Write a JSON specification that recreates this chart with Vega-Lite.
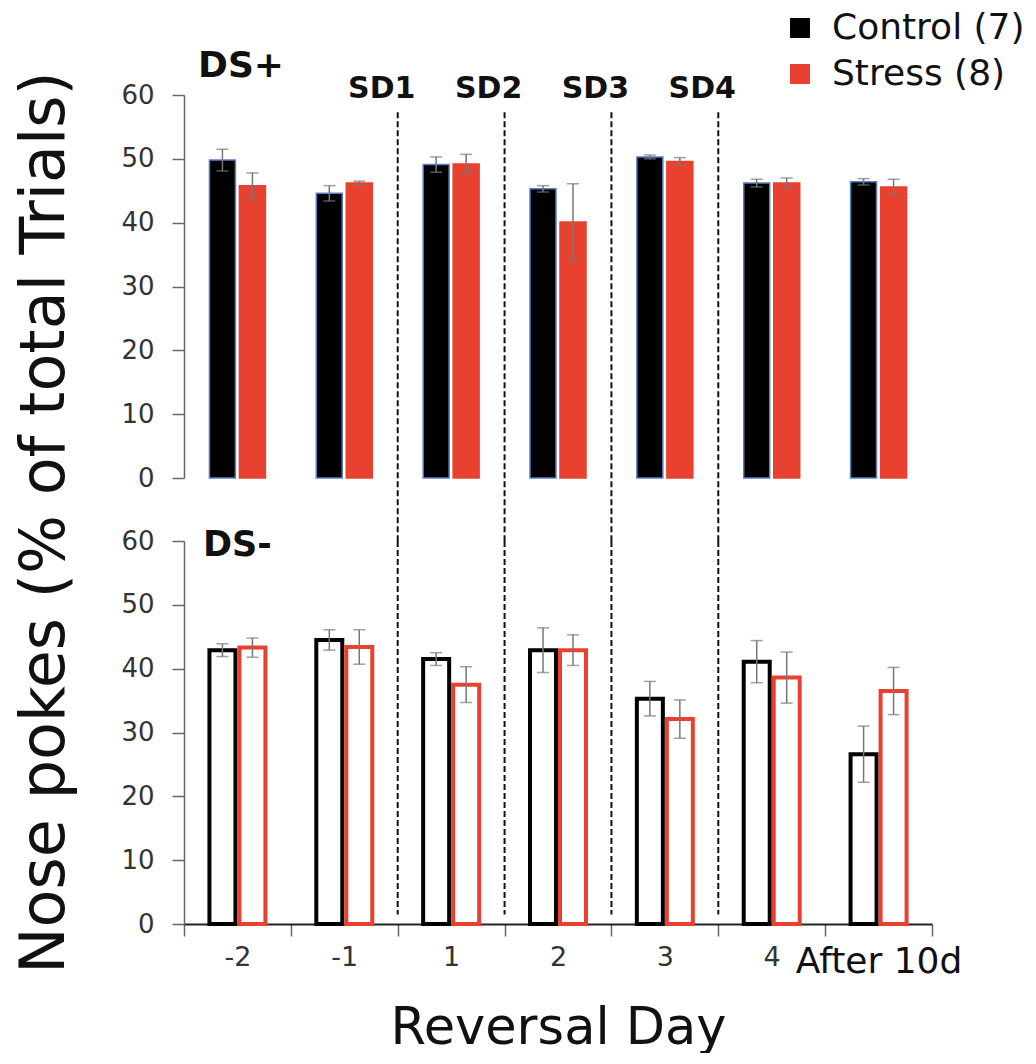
{
  "$schema": "https://vega.github.io/schema/vega-lite/v6.json",
  "padding": {"left": 12, "top": 10, "right": 0, "bottom": 0},
  "bounds": "flush",
  "spacing": 63,
  "config": {
    "font": "DejaVu Sans",
    "view": {"stroke": null},
    "axis": {"grid": false},
    "axisY": {
      "domainColor": "#666", "domainWidth": 1.5,
      "tickColor": "#666", "tickWidth": 1.5, "tickSize": 12,
      "labelFontSize": 26, "labelColor": "#333", "labelPadding": 18
    }
  },
  "datasets": {
    "bars": [
      {"day": "-2", "group": "Control (7)", "panel": "DS+", "value": 49.8, "lo": 48.1, "hi": 51.5},
      {"day": "-2", "group": "Stress (8)", "panel": "DS+", "value": 45.8, "lo": 43.8, "hi": 47.8},
      {"day": "-1", "group": "Control (7)", "panel": "DS+", "value": 44.6, "lo": 43.4, "hi": 45.8},
      {"day": "-1", "group": "Stress (8)", "panel": "DS+", "value": 46.2, "lo": 45.9, "hi": 46.5},
      {"day": "1", "group": "Control (7)", "panel": "DS+", "value": 49.1, "lo": 47.9, "hi": 50.3},
      {"day": "1", "group": "Stress (8)", "panel": "DS+", "value": 49.2, "lo": 47.7, "hi": 50.7},
      {"day": "2", "group": "Control (7)", "panel": "DS+", "value": 45.3, "lo": 44.8, "hi": 45.8},
      {"day": "2", "group": "Stress (8)", "panel": "DS+", "value": 40.1, "lo": 34.1, "hi": 46.1},
      {"day": "3", "group": "Control (7)", "panel": "DS+", "value": 50.3, "lo": 50.0, "hi": 50.6},
      {"day": "3", "group": "Stress (8)", "panel": "DS+", "value": 49.6, "lo": 49.0, "hi": 50.2},
      {"day": "4", "group": "Control (7)", "panel": "DS+", "value": 46.2, "lo": 45.6, "hi": 46.8},
      {"day": "4", "group": "Stress (8)", "panel": "DS+", "value": 46.2, "lo": 45.4, "hi": 47.0},
      {"day": "After 10d", "group": "Control (7)", "panel": "DS+", "value": 46.4, "lo": 45.9, "hi": 46.9},
      {"day": "After 10d", "group": "Stress (8)", "panel": "DS+", "value": 45.6, "lo": 44.4, "hi": 46.8},
      {"day": "-2", "group": "Control (7)", "panel": "DS-", "value": 42.9, "lo": 41.9, "hi": 43.9},
      {"day": "-2", "group": "Stress (8)", "panel": "DS-", "value": 43.3, "lo": 41.8, "hi": 44.8},
      {"day": "-1", "group": "Control (7)", "panel": "DS-", "value": 44.5, "lo": 42.9, "hi": 46.1},
      {"day": "-1", "group": "Stress (8)", "panel": "DS-", "value": 43.4, "lo": 40.7, "hi": 46.1},
      {"day": "1", "group": "Control (7)", "panel": "DS-", "value": 41.5, "lo": 40.5, "hi": 42.5},
      {"day": "1", "group": "Stress (8)", "panel": "DS-", "value": 37.5, "lo": 34.7, "hi": 40.3},
      {"day": "2", "group": "Control (7)", "panel": "DS-", "value": 42.9, "lo": 39.4, "hi": 46.4},
      {"day": "2", "group": "Stress (8)", "panel": "DS-", "value": 42.9, "lo": 40.5, "hi": 45.3},
      {"day": "3", "group": "Control (7)", "panel": "DS-", "value": 35.3, "lo": 32.6, "hi": 38.0},
      {"day": "3", "group": "Stress (8)", "panel": "DS-", "value": 32.1, "lo": 29.1, "hi": 35.1},
      {"day": "4", "group": "Control (7)", "panel": "DS-", "value": 41.1, "lo": 37.8, "hi": 44.4},
      {"day": "4", "group": "Stress (8)", "panel": "DS-", "value": 38.6, "lo": 34.6, "hi": 42.6},
      {"day": "After 10d", "group": "Control (7)", "panel": "DS-", "value": 26.6, "lo": 22.2, "hi": 31.0},
      {"day": "After 10d", "group": "Stress (8)", "panel": "DS-", "value": 36.5, "lo": 32.8, "hi": 40.2}
    ],
    "dividers": [
      {"day": "1", "label": "SD1"},
      {"day": "2", "label": "SD2"},
      {"day": "3", "label": "SD3"},
      {"day": "4", "label": "SD4"}
    ],
    "panels": [{"label": "DS+"}]
  },
  "vconcat": [
    {
      "width": 748,
      "height": 383,
      "encoding": {
        "x": {"field": "day", "type": "nominal", "scale": {"domain": ["-2", "-1", "1", "2", "3", "4", "After 10d"], "paddingInner": 0, "paddingOuter": 0}, "axis": null}
      },
      "layer": [
        {
          "data": {"name": "bars"},
          "transform": [{"filter": "datum.panel === 'DS+'"}],
          "mark": {"type": "bar", "strokeWidth": 1.5},
          "encoding": {
            "xOffset": {"field": "group", "type": "nominal", "scale": {"paddingInner": 0.133, "paddingOuter": 0.848}},
            "y": {"field": "value", "type": "quantitative", "scale": {"domain": [0, 60], "nice": false}, "axis": {"title": null, "values": [0, 10, 20, 30, 40, 50, 60]}},
            "fill": {"field": "group", "type": "nominal", "scale": {"domain": ["Control (7)", "Stress (8)"], "range": ["#000000", "#e8412f"]},
              "legend": {"title": null, "orient": "none", "legendX": 598, "legendY": -85, "symbolType": "square", "symbolSize": 400, "symbolStrokeWidth": 0, "labelFontSize": 36, "labelLimit": 400, "labelColor": "#111", "labelOffset": 14, "rowPadding": 10}},
            "stroke": {"condition": {"test": "datum.group === 'Control (7)'", "value": "#5b7fc4"}, "value": "#e8412f"}
          }
        },
        {
          "data": {"name": "bars"},
          "transform": [{"filter": "datum.panel === 'DS+'"}],
          "mark": {"type": "rule", "color": "#777", "strokeWidth": 1.5},
          "encoding": {
            "xOffset": {"field": "group", "type": "nominal"},
            "y": {"field": "lo", "type": "quantitative"},
            "y2": {"field": "hi"}
          }
        },
        {
          "data": {"name": "bars"},
          "transform": [{"filter": "datum.panel === 'DS+'"}],
          "mark": {"type": "tick", "color": "#777", "size": 12, "thickness": 1.5, "orient": "horizontal"},
          "encoding": {
            "xOffset": {"field": "group", "type": "nominal"},
            "y": {"field": "lo", "type": "quantitative"}
          }
        },
        {
          "data": {"name": "bars"},
          "transform": [{"filter": "datum.panel === 'DS+'"}],
          "mark": {"type": "tick", "color": "#777", "size": 12, "thickness": 1.5, "orient": "horizontal"},
          "encoding": {
            "xOffset": {"field": "group", "type": "nominal"},
            "y": {"field": "hi", "type": "quantitative"}
          }
        },
        {
          "data": {"name": "dividers"},
          "mark": {"type": "rule", "color": "#111", "strokeWidth": 2, "strokeDash": [6, 3]},
          "encoding": {
            "x": {"field": "day", "type": "nominal", "bandPosition": 0},
            "y": {"datum": 57.3},
            "y2": {"datum": -10}
          }
        },
        {
          "data": {"name": "dividers"},
          "mark": {"type": "text", "fontSize": 30, "fontWeight": "bold", "dx": -16, "baseline": "middle", "color": "#111"},
          "encoding": {
            "x": {"field": "day", "type": "nominal", "bandPosition": 0},
            "y": {"datum": 60.9},
            "text": {"field": "label"}
          }
        },
        {
          "data": {"name": "panels"},
          "mark": {"type": "text", "fontSize": 36, "fontWeight": "bold", "dx": 14, "align": "left", "baseline": "middle", "color": "#111"},
          "encoding": {
            "x": {"datum": "-2", "type": "nominal", "bandPosition": 0},
            "y": {"datum": 64.6},
            "text": {"field": "label"}
          }
        }
      ]
    },
    {
      "width": 748,
      "height": 383,
      "encoding": {
        "x": {"field": "day", "type": "nominal", "scale": {"domain": ["-2", "-1", "1", "2", "3", "4", "After 10d"], "paddingInner": 0, "paddingOuter": 0},
          "axis": {"title": "Reversal Day", "titleFontSize": 51, "titleFontWeight": "normal", "titleColor": "#111", "titlePadding": 24,
            "labelFontSize": {"condition": {"test": "datum.value === 'After 10d'", "value": 36}, "value": 27},
            "labelColor": {"condition": {"test": "datum.value === 'After 10d'", "value": "#111"}, "value": "#333"},
            "labelAngle": 0, "labelPadding": 8, "tickBand": "extent", "tickSize": 12, "tickWidth": 1.5, "tickColor": "#666", "domainColor": "#222", "domainWidth": 2}}
      },
      "layer": [
        {
          "data": {"name": "bars"},
          "transform": [{"filter": "datum.panel === 'DS-'"}],
          "mark": {"type": "bar", "strokeWidth": 4, "fill": "white"},
          "encoding": {
            "xOffset": {"field": "group", "type": "nominal", "scale": {"paddingInner": 0.133, "paddingOuter": 0.848}},
            "y": {"field": "value", "type": "quantitative", "scale": {"domain": [0, 60], "nice": false},
              "axis": {"values": [0, 10, 20, 30, 40, 50, 60], "title": "Nose pokes (% of total Trials)", "titleFontSize": 62, "titleFontWeight": "normal", "titleColor": "#111", "titleX": -140, "titleY": -19, "titleAngle": 270, "titleBaseline": "middle", "titleAlign": "center"}},
            "stroke": {"condition": {"test": "datum.group === 'Control (7)'", "value": "#000000"}, "value": "#e8412f"}
          }
        },
        {
          "data": {"name": "bars"},
          "transform": [{"filter": "datum.panel === 'DS-'"}],
          "mark": {"type": "rule", "color": "#777", "strokeWidth": 1.5},
          "encoding": {
            "xOffset": {"field": "group", "type": "nominal"},
            "y": {"field": "lo", "type": "quantitative"},
            "y2": {"field": "hi"}
          }
        },
        {
          "data": {"name": "bars"},
          "transform": [{"filter": "datum.panel === 'DS-'"}],
          "mark": {"type": "tick", "color": "#777", "size": 12, "thickness": 1.5, "orient": "horizontal"},
          "encoding": {
            "xOffset": {"field": "group", "type": "nominal"},
            "y": {"field": "lo", "type": "quantitative"}
          }
        },
        {
          "data": {"name": "bars"},
          "transform": [{"filter": "datum.panel === 'DS-'"}],
          "mark": {"type": "tick", "color": "#777", "size": 12, "thickness": 1.5, "orient": "horizontal"},
          "encoding": {
            "xOffset": {"field": "group", "type": "nominal"},
            "y": {"field": "hi", "type": "quantitative"}
          }
        },
        {
          "data": {"name": "dividers"},
          "mark": {"type": "rule", "color": "#111", "strokeWidth": 2, "strokeDash": [6, 3]},
          "encoding": {
            "x": {"field": "day", "type": "nominal", "bandPosition": 0},
            "y": {"datum": 60},
            "y2": {"datum": 1.5}
          }
        },
        {
          "data": {"values": [{"label": "DS-"}]},
          "mark": {"type": "text", "fontSize": 35, "fontWeight": "bold", "dx": 19, "align": "left", "baseline": "middle", "color": "#111"},
          "encoding": {
            "x": {"datum": "-2", "type": "nominal", "bandPosition": 0},
            "y": {"datum": 59.3},
            "text": {"field": "label"}
          }
        }
      ]
    }
  ]
}
